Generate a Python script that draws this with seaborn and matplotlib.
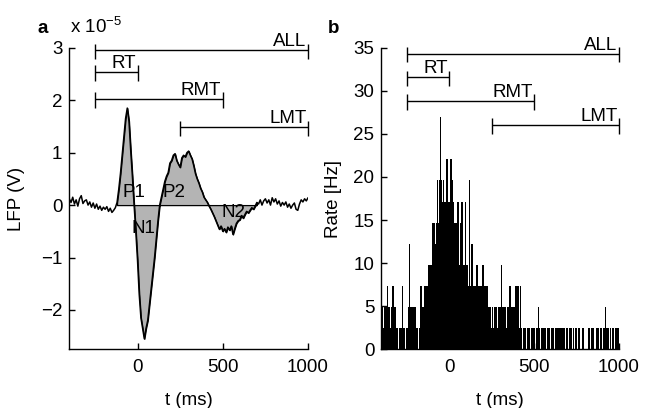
import numpy as np
import pandas as pd
import seaborn as sns
import matplotlib
matplotlib.use('Agg')
import matplotlib.pyplot as plt
from matplotlib.transforms import offset_copy

# LFP trace, 10 ms steps from -400 to 1000 ms, in units of 1e-5 V
t_lfp = np.arange(-400, 1001, 10)
lfp = [0.12, 0.05, 0.15, 0.02, 0.10, -0.02, 0.12, 0.18, 0.03, 0.08,
       0.10, 0.00, 0.06, -0.04, 0.04, -0.06, 0.02, -0.08, -0.02, -0.10,
       -0.04, -0.08, -0.03, -0.12, -0.06, -0.14, -0.10, -0.05, 0.05, 0.30,
       0.60, 0.95, 1.30, 1.65, 1.85, 1.60, 1.05, 0.55, 0.00, -0.50,
       -1.05, -1.70, -2.15, -2.35, -2.55, -2.35, -2.20, -1.90, -1.60, -1.30,
       -1.00, -0.65, -0.30, 0.00, 0.15, 0.30, 0.45, 0.55, 0.62, 0.80,
       0.85, 0.95, 0.98, 0.85, 0.78, 0.72, 0.90, 0.95, 0.92, 1.00,
       1.03, 0.95, 0.88, 0.75, 0.60, 0.50, 0.42, 0.32, 0.25, 0.15,
       0.10, 0.05, -0.02, -0.08, -0.15, -0.22, -0.30, -0.38, -0.46, -0.40,
       -0.50, -0.45, -0.52, -0.42, -0.48, -0.40, -0.56, -0.45, -0.35, -0.30,
       -0.28, -0.20, -0.25, -0.18, -0.12, -0.15, -0.10, -0.05, -0.08, -0.02,
       0.05, 0.02, 0.10, 0.00, 0.08, 0.12, 0.04, 0.10, 0.00, 0.14,
       0.06, 0.12, 0.02, 0.08, -0.02, 0.05, 0.00, 0.06, -0.04, 0.02,
       -0.06, 0.00, 0.04, -0.08, -0.10, 0.02, 0.10, 0.06, 0.12, 0.08,
       0.14]
comp_names = ['P1', 'N1', 'P2', 'N2']
comp_t = [-22, 33, 214, 565]
comp_v = [0.24, -0.45, 0.24, -0.15]

# spike counts per 5 ms bin, -400 to 1000 ms
bin_width = 5
counts = [2, 2, 1, 2, 2, 3, 2, 3, 2, 2, 1, 2, 4, 3, 3, 2, 2, 1, 1, 1,
          0, 1, 1, 1, 3, 3, 1, 1, 0, 1, 1, 2, 2, 5, 2, 2, 2, 2, 2, 2,
          2, 1, 1, 0, 1, 1, 3, 3, 2, 2, 3, 3, 3, 3, 3, 4, 4, 4, 4, 4,
          6, 6, 6, 5, 6, 8, 8, 6, 8, 11, 8, 8, 7, 8, 7, 7, 9, 9, 7, 7,
          7, 9, 9, 8, 7, 6, 6, 6, 6, 7, 7, 6, 4, 6, 7, 7, 4, 4, 4, 7,
          4, 4, 3, 8, 8, 3, 5, 5, 3, 3, 3, 3, 4, 4, 3, 3, 3, 3, 3, 4,
          4, 3, 3, 3, 2, 3, 2, 2, 2, 1, 2, 2, 1, 2, 2, 2, 1, 2, 2, 2,
          2, 4, 2, 2, 1, 2, 2, 1, 2, 2, 3, 3, 3, 2, 2, 2, 2, 3, 3, 3,
          3, 3, 1, 3, 1, 1, 0, 1, 1, 1, 0, 1, 1, 1, 1, 0, 1, 1, 1, 1,
          1, 0, 1, 1, 1, 2, 1, 0, 1, 1, 0, 1, 1, 1, 0, 1, 1, 1, 1, 0,
          1, 1, 1, 0, 1, 1, 1, 1, 1, 1, 0, 1, 1, 1, 1, 1, 0, 2, 1, 1,
          0, 1, 1, 1, 1, 0, 1, 0, 1, 1, 1, 0, 1, 1, 0, 0, 1, 1, 1, 0,
          0, 0, 0, 1, 1, 1, 0, 1, 1, 1, 1, 0, 0, 1, 1, 1, 0, 1, 1, 1,
          0, 1, 1, 1, 2, 1, 1, 1, 0, 1, 1, 0, 1, 1, 0, 1, 1, 0, 1, 1]
rate_per_spike = 2.45  # Hz

# analysis windows
win_names = ['ALL', 'RT', 'RMT', 'LMT']
win_start = [-250, -250, -250, 250]
win_end = [1000, 0, 500, 1000]
win_y_lfp = [2.95, 2.54, 2.02, 1.48]
win_y_rate = [34.3, 31.55, 28.8, 26.0]

FS = 13.5
sns.set_theme(style='ticks')
plt.rcParams['font.family'] = ['Liberation Sans', 'DejaVu Sans']
plt.rcParams.update({
    'font.size': FS,
    'axes.labelsize': FS,
    'text.color': 'black',
    'axes.labelcolor': 'black',
    'axes.linewidth': 1.0,
    'axes.edgecolor': 'black',
    'xtick.direction': 'in',
    'ytick.direction': 'in',
    'xtick.major.size': 4,
    'ytick.major.size': 4,
    'xtick.major.width': 1,
    'ytick.major.width': 1,
    'xtick.color': 'black',
    'ytick.color': 'black',
    'xtick.labelsize': FS,
    'ytick.labelsize': FS,
    'mathtext.fontset': 'custom',
    'mathtext.rm': 'Liberation Sans',
})

fig = plt.figure(figsize=(6.46, 4.08), dpi=100)
ax1 = fig.add_axes([0.1073, 0.1439, 0.3695, 0.739])
ax2 = fig.add_axes([0.5903, 0.1439, 0.368, 0.739])

df = pd.DataFrame({'t': t_lfp, 'lfp': lfp})
shade = df[(df.t >= -120) & (df.t <= 700)]
ax1.fill_between(shade.t, shade.lfp, 0, facecolor='#b4b4b4', edgecolor='black',
                 linewidth=0.9, zorder=1)
sns.lineplot(data=df, x='t', y='lfp', color='black', linewidth=1.1, ax=ax1, zorder=2)
for name, x, y in zip(comp_names, comp_t, comp_v):
    ax1.text(x, y, name, ha='center', va='center', fontsize=FS, zorder=3)

hist = pd.DataFrame({'t': -400 + bin_width * (np.arange(len(counts)) + 0.5),
                     'rate': np.array(counts) * rate_per_spike})
sns.histplot(data=hist, x='t', weights='rate', binwidth=bin_width,
             binrange=(-400, 1000), color='black', alpha=1, linewidth=0, ax=ax2)

for ax, ys, up, dn in [(ax1, win_y_lfp, 0.13, 0.17), (ax2, win_y_rate, 0.8, 1.0)]:
    lab_tr = offset_copy(ax.transData, fig=fig, x=-1, y=3, units='points')
    for name, s, e, y in zip(win_names, win_start, win_end, ys):
        ax.hlines(y, s, e, color='black', linewidth=1.0, clip_on=False)
        ax.vlines([s, e], y - dn, y + up, color='black', linewidth=1.0, clip_on=False)
        ax.text(e, y, name, ha='right', va='baseline', transform=lab_tr, fontsize=FS)

ax1.set_xlim(-400, 1000)
ax1.set_ylim(-2.75, 3)
ax1.set_xticks([0, 500, 1000])
ax1.set_yticks([-2, -1, 0, 1, 2, 3])
ax1.set_xlabel('t (ms)')
ax1.set_ylabel('LFP (V)')
ax1.xaxis.set_label_coords(0.5, -0.14)
ax1.yaxis.set_label_coords(-0.2, 0.5)

ax2.set_xlim(-400, 1000)
ax2.set_ylim(0, 35)
ax2.set_xticks([0, 500, 1000])
ax2.set_yticks(np.arange(0, 36, 5))
ax2.set_xlabel('t (ms)')
ax2.set_ylabel('Rate [Hz]')
ax2.xaxis.set_label_coords(0.5, -0.14)
ax2.yaxis.set_label_coords(-0.165, 0.5)

for ax in (ax1, ax2):
    sns.despine(ax=ax)
    ax.tick_params(axis='x', pad=7)
    ax.tick_params(axis='y', pad=5)

# ylabel anchor is the label's right edge
ax1.yaxis.label.set_horizontalalignment('center')
ax1.yaxis.set_label_coords(-0.185, 0.5)

fig.text(37 / 646, 1 - 33 / 408, 'a', fontweight='bold', fontsize=FS, va='baseline')
fig.text(70 / 646, 1 - 33 / 408, 'x 10$^{\\mathregular{-5}}$', fontsize=FS, va='baseline')
fig.text(328 / 646, 1 - 33 / 408, 'b', fontweight='bold', fontsize=FS, va='baseline')

fig.savefig('out.png', dpi=100)
